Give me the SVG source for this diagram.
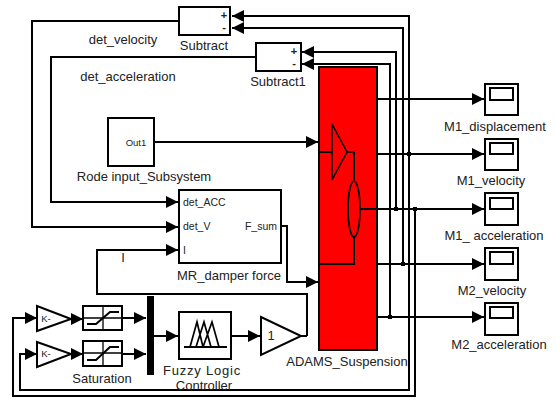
<svg xmlns="http://www.w3.org/2000/svg" width="556" height="398" viewBox="0 0 556 398">
<defs>
<marker id="ah" markerUnits="userSpaceOnUse" markerWidth="13" markerHeight="14" refX="12" refY="6" orient="auto"><path d="M0,0L12,6L0,12Z" fill="#000"/></marker>
</defs>
<style>
text{font-family:"Liberation Sans",Arial,sans-serif;font-size:13px;fill:#222;text-anchor:middle}
.b{fill:#fff;stroke:#000;stroke-width:2}
.c{fill:none;stroke:#000;stroke-width:2}
.a{fill:none;stroke:#000;stroke-width:2;marker-end:url(#ah)}
.t{fill:none;stroke:#000;stroke-width:1.3}
.s{font-size:9.5px}
.u{font-size:10.5px}
</style>
<rect width="556" height="398" fill="#fff"/>
<g id="adams"><rect x="319" y="67" width="58" height="283" fill="#f00" stroke="#000" stroke-width="2"/><path class="c" d="M319,152H332M354,152V180M354,237V264H320M360,209H376"/><path class="c" style="stroke-width:1.5" d="M347,152H354"/><path class="c" style="stroke-width:1.5" d="M332,124L347,152L332,180Z"/><ellipse class="c" cx="354" cy="209" rx="6" ry="28" style="stroke-width:1.7"/><text x="347" y="366">ADAMS_Suspension</text></g>
<g id="connectors">
<path class="a" d="M179,21H32V227H178"/>
<path class="a" d="M256,57H51V202H178"/>
<path class="a" d="M154,142H318"/>
<path class="a" d="M281,226H287V282H318"/>
<path class="a" d="M307,336V294H97V250H178"/>
<path class="a" d="M377,99H484"/>
<path class="a" d="M377,154H484"/>
<path class="a" d="M377,209H484"/>
<path class="a" d="M377,264H484"/>
<path class="a" d="M377,317H484"/>
<path class="a" d="M409,154V16H232"/>
<path class="a" d="M403,264V28H232"/>
<path class="a" d="M396,209V52H302"/>
<path class="a" d="M390,317V64H302"/>
<path class="a" d="M409,154V390H20V354H37"/>
<path class="a" d="M415,209V396H13V318H37"/>
<path class="a" d="M71,319H83"/>
<path class="a" d="M71,354H83"/>
<path class="a" d="M122,318H146"/>
<path class="a" d="M122,354H146"/>
<path class="a" d="M154,336H178"/>
<path class="a" d="M231,336H260"/>
<path class="c" d="M301,336H307"/>
<g fill="#000"><rect x="407" y="152" width="4" height="4"/><rect x="413" y="207" width="4" height="4"/><rect x="394" y="207" width="4" height="4"/><rect x="401" y="262" width="4" height="4"/><rect x="388" y="315" width="4" height="4"/></g>
</g>
<g id="subtract"><rect class="b" x="179" y="7" width="51" height="28"/><text x="224" y="19" style="font-weight:bold;font-size:11px">+</text><text x="224" y="31" style="font-weight:bold;font-size:11px">-</text><text x="204" y="50">Subtract</text></g>
<g id="subtract1"><rect class="b" x="256" y="43" width="45" height="28"/><text x="294" y="55" style="font-weight:bold;font-size:11px">+</text><text x="294" y="67" style="font-weight:bold;font-size:11px">-</text><text x="278" y="86">Subtract1</text></g>
<g id="rode"><rect class="b" x="108" y="118" width="46" height="48"/><text class="s" x="136" y="146">Out1</text><text x="144" y="181">Rode input_Subsystem</text></g>
<g id="mr"><rect class="b" x="179" y="190" width="102" height="73"/><text class="u" x="183" y="206" style="text-anchor:start">det_ACC</text><text class="u" x="183" y="230" style="text-anchor:start">det_V</text><text class="u" x="183" y="254" style="text-anchor:start">I</text><text class="u" x="277" y="230" style="text-anchor:end">F_sum</text><text x="229" y="280">MR_damper force</text></g>
<g id="gain1"><path class="b" d="M37,306L71,319L37,331Z"/><text class="s" x="46" y="322">K-</text></g>
<g id="gain2"><path class="b" d="M37,342L71,354L37,367Z"/><text class="s" x="46" y="357">K-</text></g>
<g id="sat1"><rect class="b" x="83" y="306" width="39" height="24"/><path class="t" d="M103,306V330M83,318H122"/><path class="c" d="M87,324H96L110,312H119"/></g>
<g id="sat2"><rect class="b" x="83" y="341" width="39" height="25"/><path class="t" d="M103,341V366M83,353H122"/><path class="c" d="M87,360H96L110,347H119"/><text x="102" y="383">Saturation</text></g>
<g id="mux"><rect x="147" y="296" width="7" height="79" fill="#000"/></g>
<g id="fuzzy"><rect class="b" x="179" y="312" width="52" height="47"/><path class="c" d="M184,347H227"/><path class="t" style="stroke-width:1.7" d="M190,347L197,322L203,347M196,347L204,322L211,347M203,347L212,322L219,347"/><text x="202" y="375" style="letter-spacing:.8px">Fuzzy Logic</text><text x="204" y="390">Controller</text></g>
<g id="gain3"><path class="b" d="M261,317L301,336L261,355Z"/><text x="271" y="340">1</text></g>
<g id="scope1"><rect class="b" x="485" y="84" width="33" height="31"/><rect class="b" x="490" y="88" width="23" height="12"/><text x="495" y="131">M1_displacement</text></g>
<g id="scope2"><rect class="b" x="485" y="139" width="33" height="31"/><rect class="b" x="490" y="143" width="23" height="11"/><text x="491" y="185">M1_velocity</text></g>
<g id="scope3"><rect class="b" x="485" y="193" width="33" height="32"/><rect class="b" x="490" y="198" width="23" height="11"/><text x="494" y="240">M1_ acceleration</text></g>
<g id="scope4"><rect class="b" x="485" y="248" width="33" height="32"/><rect class="b" x="490" y="252" width="23" height="12"/><text x="492" y="295">M2_velocity</text></g>
<g id="scope5"><rect class="b" x="485" y="303" width="33" height="32"/><rect class="b" x="490" y="307" width="23" height="11"/><text x="499" y="349">M2_acceleration</text></g>
<g id="labels"><text x="123" y="44">det_velocity</text><text x="128" y="81">det_acceleration</text><text x="123" y="262">I</text></g>
</svg>
